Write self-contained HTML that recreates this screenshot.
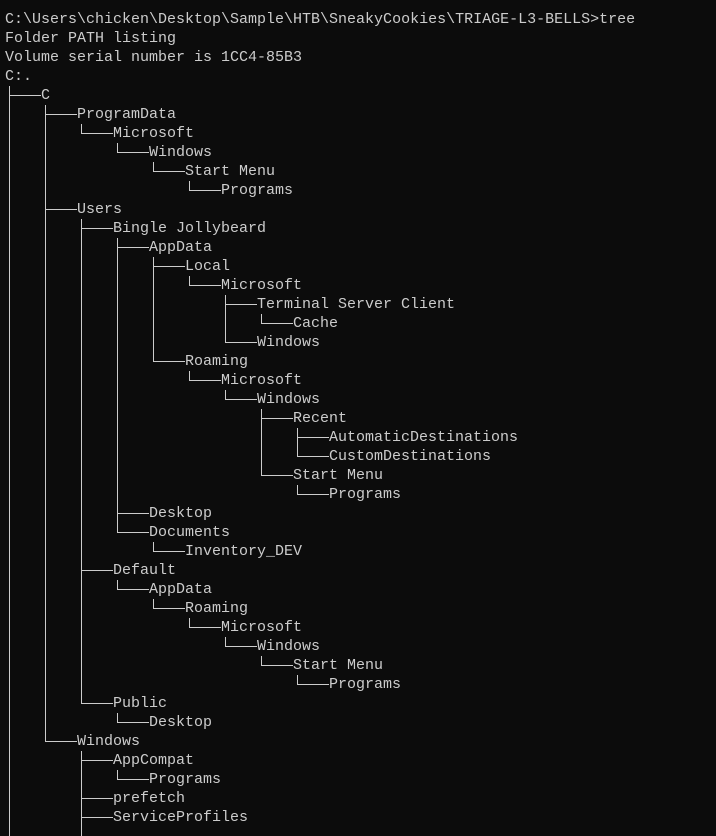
<!DOCTYPE html>
<html><head><meta charset="utf-8"><style>
html,body{margin:0;padding:0;background:#0c0c0c;width:716px;height:836px;overflow:hidden}
#w{padding:10px 0 0 5px;font-family:"Liberation Mono","DejaVu Sans Mono",monospace;font-size:15px;line-height:19px;color:#cccccc}
.r{height:19px;display:flex;white-space:pre}
.r span{display:inline-block;height:19px;position:relative}
.v,.t,.l,.e{width:36px;flex:none}
.v::before,.t::before,.l::before{content:"";position:absolute;left:4px;top:0;width:1px;height:19px;background:#cccccc}
.l::before{height:10px}
.t::after,.l::after{content:"";position:absolute;left:4px;top:9px;width:32px;height:1px;background:#cccccc}
</style></head><body><div id="w"><div class="r">C:\Users\chicken\Desktop\Sample\HTB\SneakyCookies\TRIAGE-L3-BELLS&gt;tree</div><div class="r">Folder PATH listing</div><div class="r">Volume serial number is 1CC4-85B3</div><div class="r">C:.</div>
<div class="r"><span class="t"></span>C</div>
<div class="r"><span class="v"></span><span class="t"></span>ProgramData</div>
<div class="r"><span class="v"></span><span class="v"></span><span class="l"></span>Microsoft</div>
<div class="r"><span class="v"></span><span class="v"></span><span class="e"></span><span class="l"></span>Windows</div>
<div class="r"><span class="v"></span><span class="v"></span><span class="e"></span><span class="e"></span><span class="l"></span>Start Menu</div>
<div class="r"><span class="v"></span><span class="v"></span><span class="e"></span><span class="e"></span><span class="e"></span><span class="l"></span>Programs</div>
<div class="r"><span class="v"></span><span class="t"></span>Users</div>
<div class="r"><span class="v"></span><span class="v"></span><span class="t"></span>Bingle Jollybeard</div>
<div class="r"><span class="v"></span><span class="v"></span><span class="v"></span><span class="t"></span>AppData</div>
<div class="r"><span class="v"></span><span class="v"></span><span class="v"></span><span class="v"></span><span class="t"></span>Local</div>
<div class="r"><span class="v"></span><span class="v"></span><span class="v"></span><span class="v"></span><span class="v"></span><span class="l"></span>Microsoft</div>
<div class="r"><span class="v"></span><span class="v"></span><span class="v"></span><span class="v"></span><span class="v"></span><span class="e"></span><span class="t"></span>Terminal Server Client</div>
<div class="r"><span class="v"></span><span class="v"></span><span class="v"></span><span class="v"></span><span class="v"></span><span class="e"></span><span class="v"></span><span class="l"></span>Cache</div>
<div class="r"><span class="v"></span><span class="v"></span><span class="v"></span><span class="v"></span><span class="v"></span><span class="e"></span><span class="l"></span>Windows</div>
<div class="r"><span class="v"></span><span class="v"></span><span class="v"></span><span class="v"></span><span class="l"></span>Roaming</div>
<div class="r"><span class="v"></span><span class="v"></span><span class="v"></span><span class="v"></span><span class="e"></span><span class="l"></span>Microsoft</div>
<div class="r"><span class="v"></span><span class="v"></span><span class="v"></span><span class="v"></span><span class="e"></span><span class="e"></span><span class="l"></span>Windows</div>
<div class="r"><span class="v"></span><span class="v"></span><span class="v"></span><span class="v"></span><span class="e"></span><span class="e"></span><span class="e"></span><span class="t"></span>Recent</div>
<div class="r"><span class="v"></span><span class="v"></span><span class="v"></span><span class="v"></span><span class="e"></span><span class="e"></span><span class="e"></span><span class="v"></span><span class="t"></span>AutomaticDestinations</div>
<div class="r"><span class="v"></span><span class="v"></span><span class="v"></span><span class="v"></span><span class="e"></span><span class="e"></span><span class="e"></span><span class="v"></span><span class="l"></span>CustomDestinations</div>
<div class="r"><span class="v"></span><span class="v"></span><span class="v"></span><span class="v"></span><span class="e"></span><span class="e"></span><span class="e"></span><span class="l"></span>Start Menu</div>
<div class="r"><span class="v"></span><span class="v"></span><span class="v"></span><span class="v"></span><span class="e"></span><span class="e"></span><span class="e"></span><span class="e"></span><span class="l"></span>Programs</div>
<div class="r"><span class="v"></span><span class="v"></span><span class="v"></span><span class="t"></span>Desktop</div>
<div class="r"><span class="v"></span><span class="v"></span><span class="v"></span><span class="l"></span>Documents</div>
<div class="r"><span class="v"></span><span class="v"></span><span class="v"></span><span class="e"></span><span class="l"></span>Inventory_DEV</div>
<div class="r"><span class="v"></span><span class="v"></span><span class="t"></span>Default</div>
<div class="r"><span class="v"></span><span class="v"></span><span class="v"></span><span class="l"></span>AppData</div>
<div class="r"><span class="v"></span><span class="v"></span><span class="v"></span><span class="e"></span><span class="l"></span>Roaming</div>
<div class="r"><span class="v"></span><span class="v"></span><span class="v"></span><span class="e"></span><span class="e"></span><span class="l"></span>Microsoft</div>
<div class="r"><span class="v"></span><span class="v"></span><span class="v"></span><span class="e"></span><span class="e"></span><span class="e"></span><span class="l"></span>Windows</div>
<div class="r"><span class="v"></span><span class="v"></span><span class="v"></span><span class="e"></span><span class="e"></span><span class="e"></span><span class="e"></span><span class="l"></span>Start Menu</div>
<div class="r"><span class="v"></span><span class="v"></span><span class="v"></span><span class="e"></span><span class="e"></span><span class="e"></span><span class="e"></span><span class="e"></span><span class="l"></span>Programs</div>
<div class="r"><span class="v"></span><span class="v"></span><span class="l"></span>Public</div>
<div class="r"><span class="v"></span><span class="v"></span><span class="e"></span><span class="l"></span>Desktop</div>
<div class="r"><span class="v"></span><span class="l"></span>Windows</div>
<div class="r"><span class="v"></span><span class="e"></span><span class="t"></span>AppCompat</div>
<div class="r"><span class="v"></span><span class="e"></span><span class="v"></span><span class="l"></span>Programs</div>
<div class="r"><span class="v"></span><span class="e"></span><span class="t"></span>prefetch</div>
<div class="r"><span class="v"></span><span class="e"></span><span class="t"></span>ServiceProfiles</div>
<div class="r"><span class="v"></span><span class="e"></span><span class="v"></span></div>
</div></body></html>
